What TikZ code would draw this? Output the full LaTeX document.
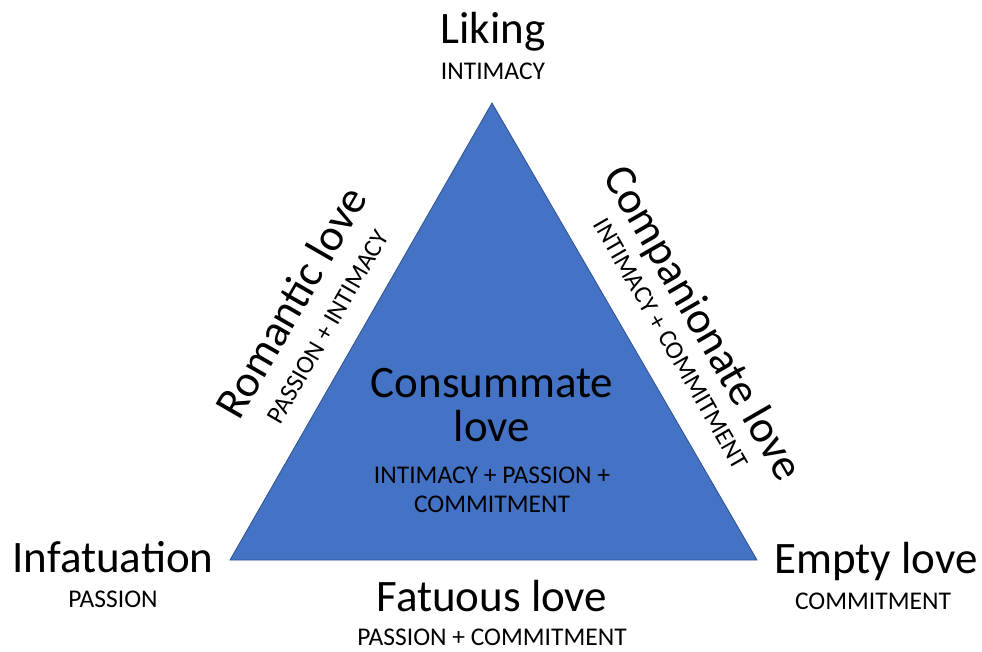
\documentclass[tikz,border=0pt]{standalone}
\usepackage{fontspec}
\setmainfont{Carlito}
\usepackage{tikz}
\definecolor{triblue}{HTML}{4472C4}
\definecolor{triedge}{HTML}{2F528F}
\newcommand{\bigtxt}{\fontsize{45}{47}\selectfont}
\newcommand{\smalltxt}{\fontsize{25.5}{27}\selectfont}

\begin{document}
\begin{tikzpicture}[x=1pt, y=-1pt,
    big/.style={anchor=base, font=\bigtxt, inner sep=0pt},
    small/.style={anchor=base, font=\smalltxt, inner sep=0pt}]
      \useasboundingbox (0,0) rectangle (982,651);

      % Corners of the triangle
      \coordinate (top) at (492,103);
      \coordinate (left) at (230,560);
      \coordinate (right) at (757,560);
      \filldraw[fill=triblue, draw=triedge, line width=0.8pt] (left) -- (top) -- (right) -- cycle;

      % Top corner
      \node[big] (liking) at (493,43) {Liking};
      \node[small] (likingsub) at (493,79) {INTIMACY};

      % Bottom corners
      \node[big] (infat) at (113,572) {Infatuation};
      \node[small] (infatsub) at (113,607) {PASSION};
      \node[big] (empty) at (876,573) {Empty love};
      \node[small] (emptysub) at (873,609) {COMMITMENT};

      % Bottom side
      \node[big] (fatuous) at (492,611) {Fatuous love};
      \node[small] (fatuoussub) at (492,645) {PASSION + COMMITMENT};

      % Left side
      \node[big, rotate=60] (romantic) at (304,310) {Romantic love};
      \node[small, rotate=60] (romanticsub) at (335,331) {PASSION + INTIMACY};

      % Right side
      \node[big, rotate=-60] (compan) at (691,330) {Companionate love};
      \node[small, rotate=-60] (compansub) at (664,348) {INTIMACY + COMMITMENT};

      % Inside the triangle
      \node[big] (consum) at (492,397) {Consummate};
      \node[big] (consumlove) at (492,441) {love};
      \node[small] (consumsub) at (492,483) {INTIMACY + PASSION +};
      \node[small] (consumsubb) at (492,512) {COMMITMENT};
    \end{tikzpicture}
\end{document}
